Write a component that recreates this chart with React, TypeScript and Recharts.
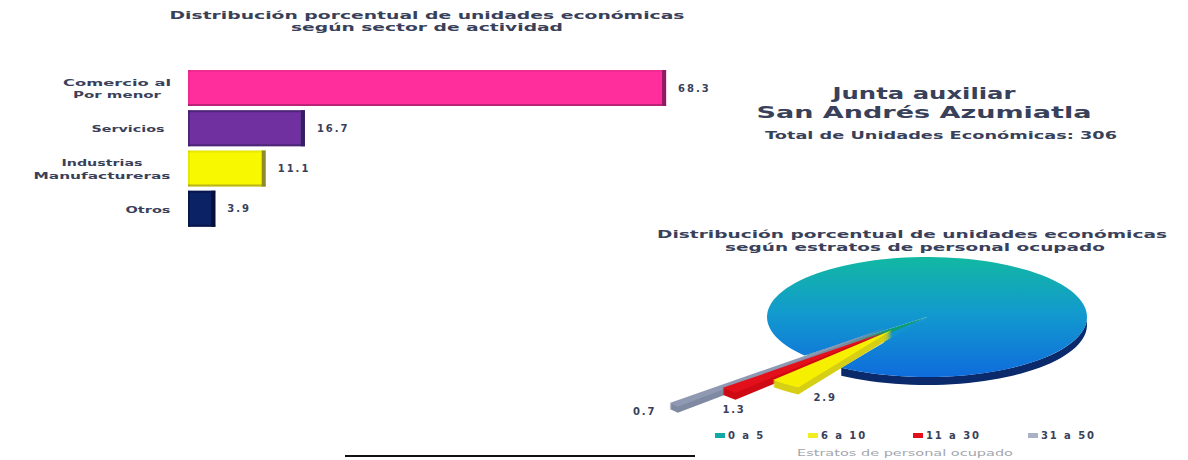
import React from 'react';
import { BarChart, Bar, XAxis, YAxis, LabelList, PieChart, Pie, Legend } from 'recharts';

const sectorNames = ['Comercio al Pormenor', 'Servicios', 'Industrias Manufactureras', 'Otros'];
const sectorValues = [68.3, 16.7, 11.1, 3.9];
const sectorTickLines: Record<string, string[]> = {
    'Comercio al Pormenor': ['Comercio al', 'Por menor'],
    'Servicios': ['Servicios'],
    'Industrias Manufactureras': ['Industrias', 'Manufactureras'],
    'Otros': ['Otros'],
};

const strataNames = ['0 a 5', '6 a 10', '11 a 30', '31 a 50'];
const strataValues = [95.1, 2.9, 1.3, 0.7];

// styles, same order as the arrays above
const barFills = ['#ff2e9c', '#7030a0', '#f8f800', '#0b2265'];
const barEdges = ['#8c1d5f', '#35205f', '#8d8b2a', '#06103a'];
const strataFills = ['url(#mainTop)', '#f6f000', '#e3101c', '#8f9ab2'];
const strataSides = ['#0b2a6b', '#d6cf14', '#cf0a14', '#7f8aa2'];
const legendColors = ['#12a8a8', '#f0ee20', '#e3101c', '#a9b2c4'];

const TEXT = '#39415a';
const FONT = '"DejaVu Sans", sans-serif';

// exploded slices: where the tip sits (relative to pie centre), their length and flattening
const tilt = 0.375;
const explode: Record<string, { dx: number; dy: number; r: number; k: number; depth: number }> = {
    '0 a 5': { dx: 0, dy: 0, r: 160, k: tilt, depth: 8 },
    '6 a 10': { dx: -35, dy: 13, r: 175, k: 0.389, depth: 7 },
    '11 a 30': { dx: -42, dy: 15, r: 220, k: 0.376, depth: 7 },
    '31 a 50': { dx: -42, dy: 11, r: 281, k: 0.415, depth: 6 },
};
const labelOffsets: Record<string, number[]> = {
    '6 a 10': [40, 17],
    '11 a 30': [5, 23],
    '31 a 50': [-29, 10],
};

const barData = sectorNames.map((name, i) => ({ name, value: sectorValues[i] }));
// draw order: main slab first, smallest slices under the bigger ones, going round counter clockwise
const pieData = [0, 3, 2, 1].map(i => ({ name: strataNames[i], value: strataValues[i] }));

function polar(cx: number, cy: number, e: { dx: number; dy: number; r: number; k: number }, angle: number) {
    const a = (angle * Math.PI) / 180;
    return [cx + e.dx + e.r * Math.cos(a), cy + e.dy - e.r * e.k * Math.sin(a)];
}

function arcPoints(cx: number, cy: number, e: any, start: number, end: number) {
    const pts: string[] = [];
    const steps = Math.max(2, Math.ceil(Math.abs(end - start) / 3));
    for (let i = 0; i <= steps; i++) {
        const p = polar(cx, cy, e, start + ((end - start) * i) / steps);
        pts.push(`${p[0]},${p[1]}`);
    }
    return pts;
}

function slicePath(cx: number, cy: number, e: any, start: number, end: number) {
    return `M${cx + e.dx},${cy + e.dy} L` + arcPoints(cx, cy, e, start, end).join(' L') + ' Z';
}

function PieSlice(props: any) {
    const { cx, cy, startAngle, endAngle } = props;
    const name = props.name ?? props.payload?.name;
    const i = strataNames.indexOf(name);
    const e = explode[name];
    const d = slicePath(cx, cy, e, startAngle, endAngle);
    if (i === 0) {
        // rim only on the front edge, so the notch stays clean
        const top = arcPoints(cx, cy, e, startAngle, 362);
        const bottom = arcPoints(cx, cy + e.depth, e, startAngle, 362).reverse();
        return (
            <g>
                <path d={'M' + top.concat(bottom).join(' L') + ' Z'} fill={strataSides[0]} />
                <path d={slicePath(cx, cy, { ...e, r: 80 }, 226, 240)} fill="#1294d0" />
                <path d={slicePath(cx, cy, { ...e, r: 158 }, 220, 229)} fill="#0e9c72" />
                <path d={d} fill={strataFills[0]} />
            </g>
        );
    }
    const copies = Array.from({ length: e.depth }, (_, n) => n + 1);
    return (
        <g>
            {copies.map(n => (
                <path key={n} d={d} transform={`translate(0,${n})`} fill={strataSides[i]} />
            ))}
            <path d={d} fill={strataFills[i]} />
        </g>
    );
}

function PieValue(props: any) {
    const name = props.name ?? props.payload?.name;
    const i = strataNames.indexOf(name);
    if (i === 0) return null;
    const e = explode[name];
    const p = polar(props.cx, props.cy, e, (props.startAngle + props.endAngle) / 2);
    const pos = labelOffsets[name];
    return (
        <text x={p[0] + pos[0]} y={p[1] + pos[1]} textAnchor="middle" fontFamily={FONT} fontSize={10} fontWeight={700} fill={TEXT} letterSpacing={1.8}>
            {props.value}
        </text>
    );
}

function BevelBar(props: any) {
    const { x, y, width, height, index } = props;
    const edge = barEdges[index];
    return (
        <g>
            <rect x={x} y={y} width={width} height={height} fill={barFills[index]} />
            <rect x={x + width - 4} y={y} width={4} height={height} fill={edge} />
            <rect x={x} y={y + height - 2} width={width} height={2} fill={edge} opacity={0.6} />
            <rect x={x} y={y} width={width} height={2} fill={edge} opacity={index === 1 || index === 3 ? 0.6 : 0.15} />
            <rect x={x} y={y} width={2} height={height} fill={edge} opacity={index === 1 || index === 3 ? 0.6 : 0.15} />
        </g>
    );
}

function SectorTick(props: any) {
    const { y, payload } = props;
    const lines = sectorTickLines[payload.value] ?? [payload.value];
    const centers: Record<string, number> = { 'Comercio al Pormenor': 117, 'Industrias Manufactureras': 102, 'Servicios': 128, 'Otros': 148 };
    const widths: Record<string, number> = { 'Comercio al': 108, 'Por menor': 88, 'Servicios': 73, 'Industrias': 81, 'Manufactureras': 137, 'Otros': 45 };
    return (
        <text textAnchor="middle" fontFamily={FONT} fontSize={9.5} fontWeight={700} fill={TEXT}>
            {lines.map((line, i) => (
                <tspan key={line} x={centers[payload.value]} y={y + 4 + (i - (lines.length - 1) / 2) * 12.5} textLength={widths[line]} lengthAdjust="spacingAndGlyphs">
                    {line}
                </tspan>
            ))}
        </text>
    );
}

function StrataLegend() {
    const lefts = [95, 188, 293, 408];
    return (
        <div style={{ position: 'relative', width: 568, height: 16 }}>
            {strataNames.map((name, i) => (
                <div key={name} style={{ position: 'absolute', left: lefts[i], top: 0, whiteSpace: 'nowrap', fontFamily: FONT, fontSize: 10, fontWeight: 700, color: TEXT, letterSpacing: 1.9 }}>
                    <span style={{ display: 'inline-block', width: 10, height: 5, marginRight: 3, verticalAlign: 1, background: legendColors[i] }} />
                    {name}
                </div>
            ))}
        </div>
    );
}

function Line({ x, y, w, size = 11, color = TEXT, weight = 700, children }: any) {
    return (
        <text x={x} y={y} textAnchor="middle" fontFamily={FONT} fontSize={size} fontWeight={weight} fill={color} textLength={w} lengthAdjust="spacingAndGlyphs">
            {children}
        </text>
    );
}

export default function App() {
    return (
        <div style={{ position: 'absolute', left: 0, top: 0, width: 1188, height: 460, background: '#fff', overflow: 'hidden' }}>
            <div style={{ position: 'absolute', left: 0, top: 0 }}>
                <BarChart width={760} height={240} layout="vertical" data={barData} margin={{ top: 68, right: 12, bottom: 11, left: 0 }}>
                    <XAxis type="number" domain={[0, 80]} hide />
                    <YAxis type="category" dataKey="name" width={188} axisLine={false} tickLine={false} interval={0} tick={<SectorTick />} />
                    <Bar dataKey="value" barSize={36} shape={<BevelBar />} isAnimationActive={false}>
                        <LabelList dataKey="value" position="right" offset={12} fontFamily={FONT} fontSize={10} fontWeight={700} fill={TEXT} letterSpacing={2} />
                    </Bar>
                </BarChart>
            </div>

            <div style={{ position: 'absolute', left: 620, top: 220 }}>
                <PieChart width={568} height={240} margin={{ top: 0, right: 0, bottom: 0, left: 0 }}>
                    <defs>
                        <linearGradient id="mainTop" x1="0" y1="0" x2="0" y2="1">
                            <stop offset="0%" stopColor="#12b8a2" />
                            <stop offset="48%" stopColor="#1299cf" />
                            <stop offset="100%" stopColor="#0f6cdc" />
                        </linearGradient>
                    </defs>
                    <Pie
                        data={pieData}
                        dataKey="value"
                        nameKey="name"
                        cx={307}
                        cy={97}
                        outerRadius={160}
                        startAngle={237.6}
                        endAngle={597.6}
                        stroke="none"
                        shape={PieSlice}
                        activeShape={PieSlice}
                        inactiveShape={PieSlice}
                        label={PieValue}
                        labelLine={false}
                        isAnimationActive={false}
                    />
                    <Legend content={<StrataLegend />} wrapperStyle={{ position: 'absolute', left: 0, top: 210, width: 568 }} />
                </PieChart>
            </div>

            <svg width={1188} height={460} style={{ position: 'absolute', left: 0, top: 0, pointerEvents: 'none' }}>
                <Line x={427} y={19} w={515}>Distribución porcentual de unidades económicas</Line>
                <Line x={427} y={31} w={272}>según sector de actividad</Line>
                <Line x={924} y={99} w={183} size={16}>Junta auxiliar</Line>
                <Line x={924} y={118} w={335} size={16}>San Andrés Azumiatla</Line>
                <Line x={941} y={139} w={352} size={10.5}>Total de Unidades Económicas: 306</Line>
                <Line x={912} y={238} w={510}>Distribución porcentual de unidades económicas</Line>
                <Line x={915} y={251} w={380}>según estratos de personal ocupado</Line>
                <Line x={905} y={456} w={216} size={9} color="#a3a6ad" weight={400}>Estratos de personal ocupado</Line>
            </svg>

            <div style={{ position: 'absolute', left: 345, top: 455, width: 350, height: 2, background: '#111' }} />
        </div>
    );
}
